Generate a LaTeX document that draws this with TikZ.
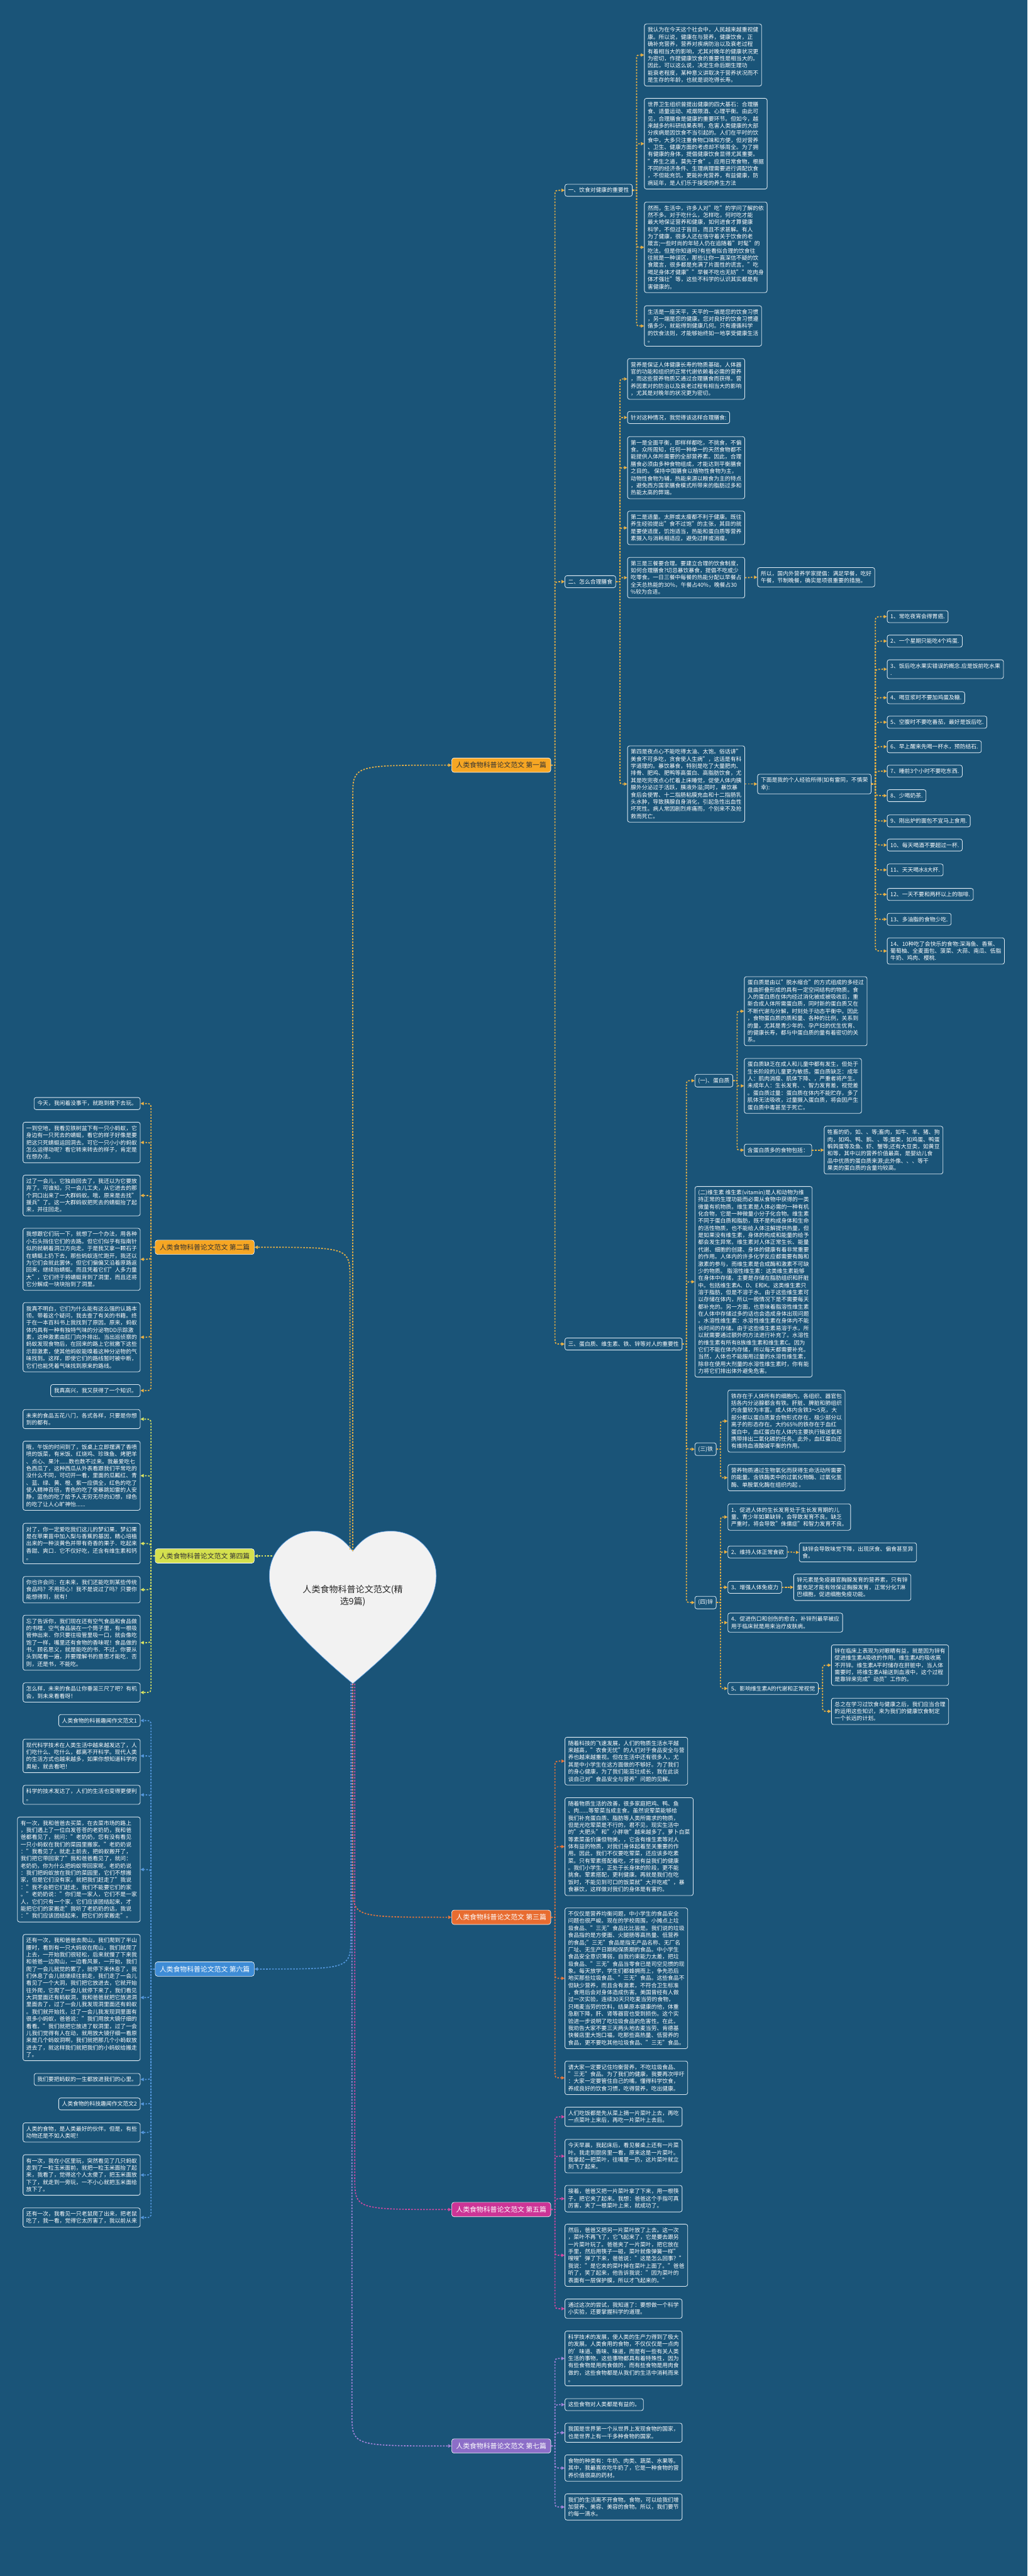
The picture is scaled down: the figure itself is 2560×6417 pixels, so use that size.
\documentclass[tikz,border=0pt]{standalone}
\usepackage{fontspec}
\setmainfont{Noto Sans CJK SC}
\usetikzlibrary{arrows.meta,calc}
\definecolor{bg}{RGB}{26,84,120}
\definecolor{bord}{RGB}{225,236,244}
\definecolor{cgold}{RGB}{236,178,68}
\definecolor{fgold}{RGB}{246,166,35}
\definecolor{clime}{RGB}{222,230,96}
\definecolor{flime}{RGB}{212,224,78}
\definecolor{cred}{RGB}{234,118,58}
\definecolor{fred}{RGB}{232,108,48}
\definecolor{cmag}{RGB}{212,72,162}
\definecolor{fmag}{RGB}{204,52,150}
\definecolor{cblue}{RGB}{84,152,222}
\definecolor{fblue}{RGB}{62,140,214}
\definecolor{cpur}{RGB}{164,132,218}
\definecolor{fpur}{RGB}{140,110,200}
\definecolor{heartc}{RGB}{242,242,242}
\newcommand\lnk[3][]{%
  \draw[conn,#1] let \p1=(#2.east), \p2=(#3.west),
    \n1={\y2-sign(\y2-\y1)*min(14,abs(\y2-\y1)/2)} in
    (\p1) -- (\x1+10pt,\y1) -- (\x1+10pt,{\n1*1pt}) .. controls (\x1+10pt,\y2) .. (\p2);}
\newcommand\lnkL[3][]{%
  \draw[conn,#1] let \p1=(#2.west), \p2=(#3.east),
    \n1={\y2-sign(\y2-\y1)*min(14,abs(\y2-\y1)/2)} in
    (\p1) -- (\x1-10pt,\y1) -- (\x1-10pt,{\n1*1pt}) .. controls (\x1-10pt,\y2) .. (\p2);}
\begin{document}
\begin{tikzpicture}[x=1pt,y=-1pt,
  box/.style={draw=bord, fill=bg, rounded corners=5pt, line width=1.3pt, text=white, align=left,
    inner xsep=8pt, inner ysep=8.5pt, font=\fontsize{13.8}{17.8}\selectfont},
  hdr/.style={draw=white, line width=1pt, rounded corners=6pt, inner xsep=11pt, inner ysep=10pt,
    font=\fontsize{17}{20}\selectfont},
  conn/.style={line width=2.6pt, dash pattern=on 4pt off 3.5pt, -{Triangle[length=8pt,width=8pt]}}]
\fill[bg] (0,0) rectangle (2560,6417);
\useasboundingbox (0,0) rectangle (2560,6417);

% ---------------- heart ----------------
\filldraw[fill=heartc, draw=cblue, line width=1pt] (879,3864) .. controls (850,3825) and (820,3814) .. (783,3814)
  .. controls (725,3814) and (671,3860) .. (671,3926) .. controls (671,3990) and (720,4060) .. (879,4194)
  .. controls (1038,4060) and (1087,3990) .. (1087,3926) .. controls (1087,3860) and (1033,3814) .. (975,3814)
  .. controls (938,3814) and (908,3825) .. (879,3864) -- cycle;
\node[align=center, text=black!85, font=\fontsize{22}{30}\selectfont] (root) at (879,3975) {人类食物科普论文范文(精\\选9篇)};
\coordinate (htop) at (879,3864);
\coordinate (htopb) at (872,3860);
\coordinate (hbot) at (879,4194);
\coordinate (hleft) at (678,3876);

% ---------------- headers ----------------
\node[hdr, fill=fgold, text=black!80, anchor=west] (h1) at (1125,1906) {人类食物科普论文范文 第一篇};
\node[hdr, fill=fred, text=white, anchor=west] (h3) at (1125,4776) {人类食物科普论文范文 第三篇};
\node[hdr, fill=fmag, text=white, anchor=west] (h5) at (1125,5504) {人类食物科普论文范文 第五篇};
\node[hdr, fill=fpur, text=white, anchor=west] (h7) at (1125,6093) {人类食物科普论文范文 第七篇};
\node[hdr, fill=fgold, text=black!80, anchor=east] (h2) at (634,3107) {人类食物科普论文范文 第二篇};
\node[hdr, fill=flime, text=black!80, anchor=east] (h4) at (634,3876) {人类食物科普论文范文 第四篇};
\node[hdr, fill=fblue, text=white, anchor=east] (h6) at (634,4905) {人类食物科普论文范文 第六篇};

% ---------------- section 1 ----------------
\node[box,anchor=west] (s1a) at (1407,474) {一、饮食对健康的重要性};
\node[box,anchor=west] (s1b) at (1407,1449) {二、怎么合理膳食};
\node[box,anchor=west] (s1c) at (1407,3348) {三、蛋白质、维生素、铁、锌等对人的重要性};

\node[box,anchor=west] (a1) at (1605,137) {我认为在今天这个社会中，人民越来越重视健\\康。所以说，健康在与营养，健康饮食，正\\确补充营养，营养对疾病防治以及衰老过程\\有着相当大的影响，尤其对晚年的健康状况更\\为密切，作提健康饮食的重要性是相当大的。\\因此，可以这么说，决定生命后期生理功\\能衰老程度，某种意义讲取决于营养状况而不\\是生存的年龄，也就是说吃得长寿。};
\node[box,anchor=west] (a2) at (1605,358) {世界卫生组织曾提出健康的四大基石：合理膳\\食、适量运动、戒烟限酒、心理平衡。由此可\\见，合理膳食是健康的重要环节。但如今，越\\来越多的科研结果表明，危害人类健康的大部\\分疾病是因饮食不当引起的。人们在平时的饮\\食中，大多只注重食物口味和方便，但对营养\\、卫生、健康方面的考虑却不够周全。为了拥\\有健康的身体，提倡健康饮食显得尤其重要。\\"养生之道，莫先于食"。应用日常食物，根据\\不同的经济条件、生理病理需要进行调配饮食\\，不但能充饥，更能补充营养，有益健康，防\\病延年，是人们乐于接受的养生方法};
\node[box,anchor=west] (a3) at (1605,616) {然而，生活中，许多人对"吃"的学问了解的依\\然不多。对于吃什么，怎样吃，何时吃才能\\最大地保证营养和健康，如何进食才算健康\\科学，不但过于盲目，而且不求甚解。有人\\为了健康，很多人还在恪守着关于饮食的老\\箴言;一些时尚的年轻人仍在追随着"时髦"的\\吃法。但是你知道吗?有些看似合理的饮食往\\往就是一种误区，那些让你一直深信不疑的饮\\食箴言，很多都是充满了片面性的谎言。"吃\\喝足身体才健康""早餐不吃也无妨""吃肉身\\体才强壮"等，这些不科学的认识其实都是有\\害健康的。};
\node[box,anchor=west] (a4) at (1605,812) {生活是一座天平，天平的一端是您的饮食习惯\\，另一端是您的健康。您对良好的饮食习惯遵\\循多少，就能得到健康几何。只有遵循科学\\的饮食法则，才能够始终如一地享受健康生活\\。};

\node[box,anchor=west] (b1) at (1563,944) {营养是保证人体健康长寿的物质基础，人体器\\官的功能和组织的正常代谢依赖着必需的营养\\，而这些营养物质又通过合理膳食而获得。营\\养因素对的防治以及衰老过程有相当大的影响\\，尤其是对晚年的状况更为密切。};
\node[box,anchor=west] (b2) at (1563,1040) {针对这种情况，我觉得该这样合理膳食:};
\node[box,anchor=west] (b3) at (1563,1165) {第一是全面平衡，即样样都吃，不挑食，不偏\\食。众所周知，任何一种单一的天然食物都不\\能提供人体所需要的全部营养素。因此，合理\\膳食必须由多种食物组成，才能达到平衡膳食\\之目的。 保持中国膳食以植物性食物为主，\\动物性食物为辅，热能来源以粮食为主的特点\\，避免西方国家膳食模式所带来的脂肪过多和\\热能太高的弊端。};
\node[box,anchor=west] (b4) at (1563,1315) {第二是适量。太胖或太瘦都不利于健康。既往\\养生经验提出"食不过饱"的主张，其目的就\\是要使适度，饥饱适当，热能和蛋白质等营养\\素摄入与消耗相适应，避免过胖或消瘦。};
\node[box,anchor=west] (b5) at (1563,1439) {第三是三餐要合理。要建立合理的饮食制度，\\如何合理膳食?切忌暴饮暴食，提倡不吃或少\\吃零食。一日三餐中每餐的热能分配以早餐占\\全天总热能的30\%，午餐占40\%，晚餐占30\\\%较为合适。};
\node[box,anchor=west] (b5a) at (1887,1438) {所以，国内外营养学家提倡：满足早餐，吃好\\午餐，节制晚餐，确实是项很重要的措施。};
\node[box,anchor=west] (b6) at (1563,1953) {第四是夜点心不能吃得太油、太饱。俗话讲"\\美食不可多吃，贪食使人生病"，这话是有科\\学道理的。暴饮暴食，特别是吃了大量肥肉、\\排骨、肥鸡、肥鸭等高蛋白、高脂肪饮食，尤\\其是吃完夜点心忙着上床睡觉，促使人体内胰\\腺外分泌过于活跃，胰液外溢;同时，暴饮暴\\食后会使胃、十二指肠粘膜充血和十二指肠乳\\头水肿，导致胰腺自身消化，引起急性出血性\\坏死性。病人常因剧烈疼痛而，个别来不及抢\\救而死亡。};
\node[box,anchor=west] (b6a) at (1887,1953) {下面是我的个人经验所得(如有雷同，不慎荣\\幸):};

\node[box,anchor=west] (i1) at (2210,1536) {1、常吃夜宵会得胃癌.};
\node[box,anchor=west] (i2) at (2210,1597) {2、一个星期只能吃4个鸡蛋.};
\node[box,anchor=west] (i3) at (2210,1667) {3、饭后吃水果实错误的概念.应是饭前吃水果\\.};
\node[box,anchor=west] (i4) at (2210,1738) {4、喝豆浆时不要加鸡蛋及糖.};
\node[box,anchor=west] (i5) at (2210,1799) {5、空腹时不要吃番茄，最好是饭后吃.};
\node[box,anchor=west] (i6) at (2210,1860) {6、早上醒来先喝一杯水，预防结石.};
\node[box,anchor=west] (i7) at (2210,1921) {7、睡前3个小时不要吃东西.};
\node[box,anchor=west] (i8) at (2210,1982) {8、少喝奶茶.};
\node[box,anchor=west] (i9) at (2210,2045) {9、刚出炉的面包不宜马上食用.};
\node[box,anchor=west] (i10) at (2210,2105) {10、每天喝酒不要超过一杯.};
\node[box,anchor=west] (i11) at (2210,2167) {11、天天喝水8大杯.};
\node[box,anchor=west] (i12) at (2210,2228) {12、一天不要和两杯以上的咖啡.};
\node[box,anchor=west] (i13) at (2210,2290) {13、多油脂的食物少吃.};
\node[box,anchor=west] (i14) at (2210,2369) {14、10种吃了会快乐的食物:深海鱼、香蕉、\\葡萄柚、全麦面包、菠菜、大蒜、南瓜、低脂\\牛奶、鸡肉、樱桃.};

\node[box,anchor=west] (c1) at (1731,2692) {(一)、蛋白质};
\node[box,anchor=west] (c1p1) at (1854,2519) {蛋白质是由以"脱水缩合"的方式组成的多经过\\盘曲折叠形成的具有一定空间结构的物质。食\\入的蛋白质在体内经过消化被成被吸收后，重\\新合成人体所需蛋白质，同时新的蛋白质又在\\不断代谢与分解，时刻处于动态平衡中。因此\\，食物蛋白质的质和量、各种的比例，关系到\\的量，尤其是青少年的、孕产妇的优生优育、\\的健康长寿，都与中蛋白质的量有着密切的关\\系。};
\node[box,anchor=west] (c1p2) at (1854,2705) {蛋白质缺乏在成人和儿童中都有发生，但处于\\生长阶段的儿童更为敏感。蛋白质缺乏：成年\\人：肌肉消瘦、肌体下降、，严重者将产生。\\未成年人：生长发育、、智力发育差，视觉差\\。蛋白质过量：蛋白质在体内不能贮存，多了\\肌体无法吸收，过量摄入蛋白质，将会因产生\\蛋白质中毒甚至于死亡。};
\node[box,anchor=west] (c1p3) at (1854,2865) {含蛋白质多的食物包括：};
\node[box,anchor=west] (c1p3a) at (2053,2865) {牲畜的奶，如、、等;畜肉，如牛、羊、猪、狗\\肉，如鸡、鸭、鹅、、等;蛋类，如鸡蛋、鸭蛋\\鹌鹑蛋等及鱼、虾、蟹等;还有大豆类，如黄豆\\和等，其中以的营养价值最高，是婴幼儿食\\品中优质的蛋白质来源;此外像、、、等干\\果类的蛋白质的含量均较高。};
\node[box,anchor=west] (c2) at (1731,3193) {(二)维生素 维生素(vitamin)是人和动物为维\\持正常的生理功能而必需从食物中获得的一类\\微量有机物质。维生素是人体必需的一种有机\\化合物，它是一种微量小分子化合物。维生素\\不同于蛋白质和脂肪，既不是构成身体和生命\\的活性物质，也不能给人体注解提供热量，但\\是如果没有维生素，身体的构成和能量的给予\\都会发生异常。维生素对人体正常生长、能量\\代谢、细胞的创建、身体的健康有着非常重要\\的作用。人体内的许多化学反应都需要有酶和\\激素的参与，而维生素是合成酶和激素不可缺\\少的物质。 脂溶性维生素：这类维生素能够\\在身体中存储，主要是存储在脂肪组织和肝脏\\中。包括维生素A、D、E和K。这类维生素只\\溶于脂肪，但是不溶于水。由于这些维生素可\\以存储在体内，所以一般情况下是不需要每天\\都补充的。另一方面，也意味着脂溶性维生素\\在人体中存储过多的话也会造成身体出现问题\\。水溶性维生素：水溶性维生素在身体内不能\\长时间的存储。由于这些维生素易溶于水，所\\以就需要通过额外的方法进行补充了。水溶性\\的维生素有所有B族维生素和维生素C。因为\\它们不能在体内存储，所以每天都需要补充。\\当然，人体也不能服用过量的水溶性维生素，\\除非在使用大剂量的水溶性维生素时，你有能\\力将它们排出体外避免危害。};
\node[box,anchor=west] (c3) at (1731,3610) {(三)铁};
\node[box,anchor=west] (c3t1) at (1813,3540) {铁存在于人体所有的细胞内，各组织、器官包\\括各内分泌腺都含有铁。肝脏、脾脏和肺组织\\内含量较为丰富。成人体内含铁3～5克，大\\部分都以蛋白质复合物形式存在，极少部分以\\离子的形态存在。大约65\%的铁存在于血红\\蛋白中，血红蛋白在人体内主要执行输送氧和\\携带排出二氧化碳的任务。此外，血红蛋白还\\有维持血液酸碱平衡的作用。};
\node[box,anchor=west] (c3t2) at (1813,3681) {营养物质通过生物氧化而获得生命活动所需要\\的能量。含铁酶类中的过氧化物酶、过氧化氢\\酶、单胺氧化酶在组织内起 。};
\node[box,anchor=west] (c4) at (1731,3992) {(四)锌};
\node[box,anchor=west] (z1) at (1813,3779) {1、促进人体的生长发育处于生长发育期的儿\\童、青少年如果缺锌，会导致发育不良。缺乏\\严重时，将会导致"侏儒症"和智力发育不良。};
\node[box,anchor=west] (z2) at (1813,3866) {2、维持人体正常食欲};
\node[box,anchor=west] (z2a) at (1991,3867) {缺锌会导致味觉下降，出现厌食、偏食甚至异\\食。};
\node[box,anchor=west] (z3) at (1813,3954) {3、增强人体免疫力};
\node[box,anchor=west] (z3a) at (1977,3954) {锌元素是免疫器官胸腺发育的营养素，只有锌\\量充足才能有效保证胸腺发育，正常分化T淋\\巴细胞，促进细胞免疫功能。};
\node[box,anchor=west] (z4) at (1813,4042) {4、促进伤口和创伤的愈合，补锌剂最早被应\\用于临床就是用来治疗皮肤病。};
\node[box,anchor=west] (z5) at (1813,4206) {5、影响维生素A的代谢和正常视觉};
\node[box,anchor=west] (z5a) at (2071,4148) {锌在临床上表现为对眼睛有益，就是因为锌有\\促进维生素A吸收的作用。维生素A的吸收离\\不开锌。维生素A平时储存在肝脏中，当人体\\需要时，将维生素A输送到血液中，这个过程\\是靠锌来完成"动员"工作的。};
\node[box,anchor=west] (z5b) at (2071,4263) {总之在学习过饮食与健康之后，我们应当合理\\的运用这些知识，来为我们的健康饮食制定\\一个长远的计划。};

% ---------------- section 3 ----------------
\node[box,anchor=west] (t1) at (1407,4387) {随着科技的飞速发展，人们的物质生活水平越\\来越高，"衣食无忧"的人们对于食品安全与营\\养也越来越重视。但在生活中还有很多人，尤\\其是中小学生在这方面做的不够好。为了我们\\的身心健康，为了我们能茁壮成长，我在此谈\\谈自己对"食品安全与营养"问题的见解。};
\node[box,anchor=west] (t2) at (1407,4600) {随着物质生活的改善，很多家庭把鸡、鸭、鱼\\、肉......等荤菜当成主食。虽然说荤菜能够给\\我们补充蛋白质、脂肪等人类所需求的物质，\\但是光吃荤菜是不行的，君不见，现实生活中\\的"大肥头"和"小胖墩"越来越多了。萝卜白菜\\等素菜虽价廉但物美，，它含有维生素等对人\\体有益的物质，对我们身体起着至关重要的作\\用。因此，我们不仅要吃荤菜，还应该多吃素\\菜。只有荤素搭配着吃，才能有益我们的健康\\。我们小学生，正处于长身体的阶段，更不能\\挑食。荤素搭配，更利健康。再就是我们在吃\\饭时，不能见到可口的饭菜就"大开吃戒"，暴\\食暴饮，这样做对我们的身体是有害的。};
\node[box,anchor=west] (t3) at (1407,4928) {不仅仅是营养均衡问题，中小学生的食品安全\\问题也很严峻。现在的学校周围，小摊点上垃\\圾食品、"三无"食品比比皆是。我们说的垃圾\\食品指的是方便面、火腿肠等高热量、低营养\\的食品;"三无"食品是指无产品名称、无厂名\\厂址、无生产日期和保质期的食品。中小学生\\食品安全意识薄弱，自我约束能力太差，把垃\\圾食品、"三无"食品当零食已是司空见惯的现\\象。每天放学，学生们都蜂拥而上，争先恐后\\地买那些垃圾食品、"三无"食品。这些食品不\\但缺少营养，而且含有激素，不符合卫生标准\\，食用后会对身体造成伤害。美国曾经有人做\\过一次实验，连续30天只吃麦当劳的食物，\\只喝麦当劳的饮料，结果原本健康的他，体重\\急剧下降，肝、肾等器官也受到损伤。这个实\\验进一步说明了吃垃圾食品的危害性。在此，\\我劝告大家不要三天两头地去麦当劳、肯德基\\快餐店里大饱口福，吃那些高热量、低营养的\\食品，更不要吃其他垃圾食品、"三无"食品。};
\node[box,anchor=west] (t4) at (1407,5176) {请大家一定要记住均衡营养，不吃垃圾食品、\\"三无"食品。为了我们的健康，我要再次呼吁\\：大家一定要管住自己的嘴，懂得科学饮食，\\养成良好的饮食习惯，吃得营养，吃出健康。};

% ---------------- section 5 ----------------
\node[box,anchor=west] (f1) at (1407,5273) {人们吃饭都是先从菜上摘一片菜叶上去，再吃\\一点菜叶上来后，再吃一片菜叶上去后。};
\node[box,anchor=west] (f2) at (1407,5371) {今天早晨，我起床后，看见餐桌上还有一片菜\\叶。我走到厨房里一看，原来这是一片菜叶。\\我拿起一把菜叶，往嘴里一扔，这片菜叶就立\\刻飞了起来。};
\node[box,anchor=west] (f3) at (1407,5477) {接着，爸爸又把一片菜叶拿了下来，用一根筷\\子，把它夹了起来。我想：爸爸这个手指可真\\厉害，夹了一根菜叶上来，就成功了。};
\node[box,anchor=west] (f4) at (1407,5618) {然后，爸爸又把另一片菜叶放了上去。这一次\\，菜叶不再飞了，它飞起来了，它是要去跟另\\一片菜叶玩了。爸爸夹了一片菜叶，把它放在\\手里，然后用筷子一碰，菜叶就像弹簧一样"\\嗖嗖"弹了下来，爸爸说："这是怎么回事？"\\我说："是它夹的菜叶掉在菜叶上面了。"爸爸\\听了，笑了起来，他告诉我说："因为菜叶的\\表面有一层保护膜，所以才飞起来的。"};
\node[box,anchor=west] (f5) at (1407,5751) {通过这次的尝试，我知道了：要想做一个科学\\小实验，还要掌握科学的道理。};

% ---------------- section 7 ----------------
\node[box,anchor=west] (g1) at (1407,5875) {科学技术的发展，使人类的生产力得到了极大\\的发展。人类食用的食物，不仅仅仅是一点肉\\的'味道、香味、味道，而是有一些有关人类\\生活的事物，这些事物都具有着特殊性，因为\\有些食物是用肉食做的，而有些食物是用肉食\\做的，这些食物都是从我们的生活中消耗而来\\。};
\node[box,anchor=west] (g2) at (1407,5990) {这些食物对人类都是有益的。};
\node[box,anchor=west] (g3) at (1407,6060) {我国是世界第一个从世界上发现食物的国家，\\也是世界上有一千多种食物的国家。};
\node[box,anchor=west] (g4) at (1407,6148) {食物的种类有：牛奶、肉类、蔬菜、水果等。\\其中，我最喜欢吃牛奶了，它是一种食物的营\\养价值很高的药材。};
\node[box,anchor=west] (g5) at (1407,6245) {我们的生活离不开食物。食物，可以给我们增\\加营养、美容、美容的食物。所以，我们要节\\约每一滴水。};

% ---------------- section 2 (left) ----------------
\node[box,anchor=east] (e1) at (350,2749) {今天，我闲着没事干，就跑到楼下去玩。};
\node[box,anchor=east] (e2) at (350,2846) {一到空地，我看见铁树盆下有一只小蚂蚁，它\\身边有一只死去的蜻蜓，看它的样子好像是要\\把这只死蜻蜓运回洞去。可它一只小小的蚂蚁\\怎么运得动呢？看它转来转去的样子，肯定是\\在想办法。};
\node[box,anchor=east] (e3) at (350,2978) {过了一会儿，它独自回去了，我还以为它要放\\弃了。可谁知，只一会儿工夫，从它进去的那\\个洞口出来了一大群蚂蚁。哦，原来是去找"\\援兵"了。这一大群蚂蚁把死去的蜻蜓抬了起\\来，并往回走。};
\node[box,anchor=east] (e4) at (350,3137) {我想跟它们玩一下，就想了一个办法，用各种\\小石头挡住它们的去路。但它们似乎有指南针\\似的就朝着洞口方向走。于是我又拿一颗石子\\在蜻蜓上扔下去，那些蚂蚁连忙跑开，我还以\\为它们会就此罢休，但它们偏偏又沿着原路返\\回来，继续抬蜻蜓。而且凭着它们"人多力量\\大"，它们终于将蜻蜓背到了洞里，而且还将\\它分解成一块块抬到了洞里。};
\node[box,anchor=east] (e5) at (350,3331) {我真不明白，它们为什么能有这么强的认路本\\领。带着这个疑问，我去查了有关的书籍。终\\于在一本百科书上我找到了原因。原来，蚂蚁\\体内具有一种有独特气味的分泌物DD示踪激\\素，这种激素由肛门向外排出。当出巡侦察的\\蚂蚁发现食物后，在回来的路上它就撒下这些\\示踪激素，使其他蚂蚁能嗅着这种分泌物的气\\味找到。这样，即使它们的路线暂时被中断，\\它们也能凭着气味找到原来的路线。};
\node[box,anchor=east] (e6) at (350,3464) {我真高兴，我又获得了一个知识。};

% ---------------- section 4 (left) ----------------
\node[box,anchor=east] (d1) at (350,3535) {未来的食品五花八门，各式各样，只要是你想\\到的都有。};
\node[box,anchor=east] (d2) at (350,3676) {哦，午饭的时间到了，饭桌上立即摆满了香喷\\喷的饭菜，有米饭、红烧鸡、珍珠鱼、烤肥羊\\、点心、果汁......数也数不过来。我最爱吃七\\色西瓜了，这种西瓜从外表看跟我们平常吃的\\没什么不同，可切开一看，里面的瓜瓤红、青\\、蓝、绿、黄、橙、紫一应俱全，红色的吃了\\使人精神百倍，青色的吃了使暴跳如雷的人安\\静，蓝色的吃了给予人无穷无尽的幻想，绿色\\的吃了让人心旷神怡......};
\node[box,anchor=east] (d3) at (350,3845) {对了，你一定爱吃我们这儿的梦幻果．梦幻果\\是在苹果苗中加入梨与香蕉的基因，精心培植\\出来的一种淡黄色并带有奇香的果子．吃起来\\香甜、爽口．它不仅好吃，还含有维生素和钙\\。};
\node[box,anchor=east] (d4) at (350,3960) {你也许会问：在未来，我们还能吃到某些传统\\食品吗？不用担心！我不是说过了吗？只要你\\能想得到，就有！};
\node[box,anchor=east] (d5) at (350,4092) {忘了告诉你，我们现在还有空气食品和食品做\\的书哩．空气食品装在一个筒子里，有一根吸\\管伸出来．你只要往吸管里吸一口，就会像吃\\饱了一样，嘴里还有食物的香味呢！食品做的\\书，顾名思义，就是能吃的书．不过，你要从\\头到尾看一遍，并要理解书的意思才能吃．否\\则，还是书，不能吃。};
\node[box,anchor=east] (d6) at (350,4216) {怎么样，未来的食品让你垂涎三尺了吧？有机\\会，到未来看看呀！};

% ---------------- section 6 (left) ----------------
\node[box,anchor=east] (x1) at (350,4286) {人类食物的科普趣闻作文范文1};
\node[box,anchor=east] (x2) at (350,4374) {现代科学技术在人类生活中越来越发达了，人\\们吃什么、吃什么，都离不开科学。现代人类\\的生活方式也越来越多，如果你想知道科学的\\奥秘，就去看吧！};
\node[box,anchor=east] (x3) at (350,4471) {科学的技术发达了，人们的生活也变得更便利\\。};
\node[box,anchor=east] (x4) at (350,4657) {有一次，我和爸爸去买菜，在去菜市场的路上\\，我们遇上了一位白发苍苍的老奶奶，我和爸\\爸都看见了，就问："老奶奶，您有没有看见\\一只小蚂蚁在我们的菜园里搬家。"老奶奶说\\："我看见了，就走上前去，把蚂蚁搬开了，\\我们把它带回家了"我和爸爸看见了，就问：\\老奶奶，你为什么把蚂蚁带回家呢。老奶奶说\\：我们把蚂蚁放在我们的菜园里，它们不想搬\\家，但是它们没有家，就把我们赶走了"我说\\："我不会把它们赶走，我们不能要它们的家\\。"老奶奶说："你们是一家人，它们不是一家\\人，它们只有一个家，它们应该团结起来，才\\能把它们的家搬走"我听了老奶奶的话，我说\\："我们应该团结起来，把它们的家搬走"。};
\node[box,anchor=east] (x5) at (350,4976) {还有一次，我和爸爸去爬山，我们爬到了半山\\腰时，看到有一只大蚂蚁在爬山，我们就爬了\\上去，一开始我们很轻松，后来就慢了下来我\\和爸爸一边爬山，一边看风景，一开始，我们\\爬了一会儿就觉的累了，就停下来休息了，我\\们休息了会儿就继续往前走，我们走了一会儿\\看见了一个大洞，我们把它放进去，它就开始\\往外爬，它爬了一会儿就停下来了，我们看见\\大洞里面还有蚂蚁洞，我和爸爸就把它放进洞\\里面去了，过了一会儿我发现洞里面还有蚂蚁\\。我们就开始找，过了一会儿我发现洞里面有\\很多小蚂蚁，爸爸说："我们用放大镜仔细的\\看看。"我们就把它放进了蚁洞里，过了一会\\儿我们觉得有人在动，就用放大镜仔细一看原\\来是几个蚂蚁洞啊，我们就把那几个小蚂蚁放\\进去了，就这样我们就把我们的小蚂蚁给搬走\\了。};
\node[box,anchor=east] (x6) at (350,5180) {我们要把蚂蚁的一生都放进我们的心里。};
\node[box,anchor=east] (x7) at (350,5241) {人类食物的科技趣闻作文范文2};
\node[box,anchor=east] (x8) at (350,5312) {人类的食物，是人类最好的伙伴。但是，有些\\动物还是不如人类呢！};
\node[box,anchor=east] (x9) at (350,5418) {有一次，我在小区里玩，突然看见了几只蚂蚁\\走到了一粒玉米面前，就把一粒玉米面抬了起\\来，我看了，觉得这个人太傻了，把玉米面放\\下了，就走到一旁玩，一不小心就把玉米面给\\放下了。};
\node[box,anchor=east] (x10) at (350,5524) {还有一次，我看见一只老鼠爬了出来，把老鼠\\吃了，我一看，觉得它太厉害了，我以前从来};

% ---------------- connectors ----------------
\draw[conn,cgold] (htop) -- ([yshift=-80pt]htop |- h1.west) .. controls (htop |- h1.west) .. (h1.west);
\draw[conn,cgold] (htopb) -- ([yshift=-80pt]htopb |- h2.east) .. controls (htopb |- h2.east) .. (h2.east);
\draw[conn,clime] (hleft) -- (h4.east);
\draw[conn,cred] (hbot) -- ([yshift=80pt]hbot |- h3.west) .. controls (hbot |- h3.west) .. (h3.west);
\draw[conn,cblue] ([xshift=-5pt]hbot) -- ([xshift=-5pt,yshift=80pt]hbot |- h6.east) .. controls ([xshift=-5pt]hbot |- h6.east) .. (h6.east);
\draw[conn,cmag] ([xshift=5pt]hbot) -- ([xshift=5pt,yshift=80pt]hbot |- h5.west) .. controls ([xshift=5pt]hbot |- h5.west) .. (h5.west);
\draw[conn,cpur] ([xshift=-2pt]hbot) -- ([xshift=-2pt,yshift=80pt]hbot |- h7.west) .. controls ([xshift=-2pt]hbot |- h7.west) .. (h7.west);

\foreach \c in {s1a,s1b,s1c} {\lnk[cgold]{h1}{\c}}
\foreach \c in {a1,a2,a3,a4} {\lnk[cgold]{s1a}{\c}}
\foreach \c in {b1,b2,b3,b4,b5,b6} {\lnk[cgold]{s1b}{\c}}
\lnk[cgold]{b5}{b5a}
\lnk[cgold]{b6}{b6a}
\foreach \c in {i1,i2,i3,i4,i5,i6,i7,i8,i9,i10,i11,i12,i13,i14} {\lnk[cgold]{b6a}{\c}}
\foreach \c in {c1,c2,c3,c4} {\lnk[cgold]{s1c}{\c}}
\foreach \c in {c1p1,c1p2,c1p3} {\lnk[cgold]{c1}{\c}}
\lnk[cgold]{c1p3}{c1p3a}
\foreach \c in {c3t1,c3t2} {\lnk[cgold]{c3}{\c}}
\foreach \c in {z1,z2,z3,z4,z5} {\lnk[cgold]{c4}{\c}}
\lnk[cgold]{z2}{z2a}
\lnk[cgold]{z3}{z3a}
\lnk[cgold]{z5}{z5a}
\lnk[cgold]{z5}{z5b}
\foreach \c in {t1,t2,t3,t4} {\lnk[cred]{h3}{\c}}
\foreach \c in {f1,f2,f3,f4,f5} {\lnk[cmag]{h5}{\c}}
\foreach \c in {g1,g2,g3,g4,g5} {\lnk[cpur]{h7}{\c}}
\foreach \c in {e1,e2,e3,e4,e5,e6} {\lnkL[cgold]{h2}{\c}}
\foreach \c in {d1,d2,d3,d4,d5,d6} {\lnkL[clime]{h4}{\c}}
\foreach \c in {x1,x2,x3,x4,x5,x6,x7,x8,x9,x10} {\lnkL[cblue]{h6}{\c}}
\end{tikzpicture}
\end{document}
